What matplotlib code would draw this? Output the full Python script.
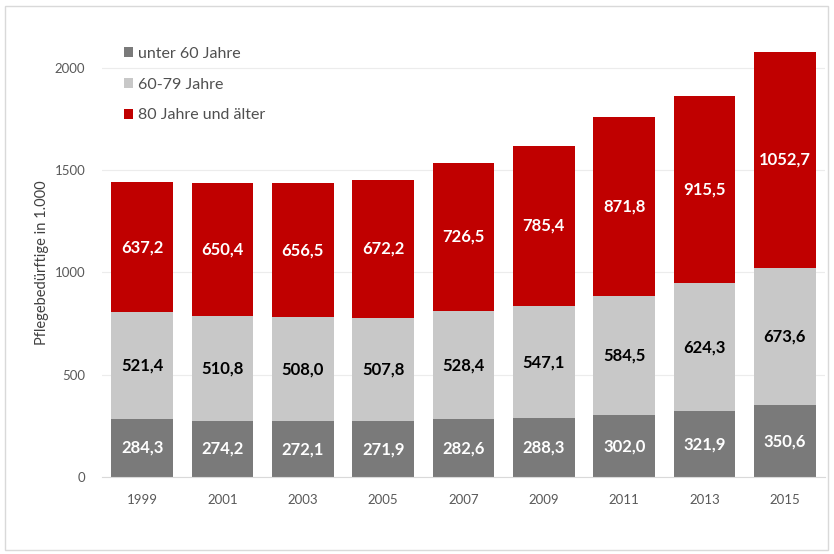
import matplotlib
matplotlib.use("Agg")
import matplotlib.pyplot as plt
from matplotlib.patches import Rectangle
import numpy as np

years = ["1999", "2001", "2003", "2005", "2007", "2009", "2011", "2013", "2015"]
unter60 = [284.3, 274.2, 272.1, 271.9, 282.6, 288.3, 302.0, 321.9, 350.6]
j60_79 = [521.4, 510.8, 508.0, 507.8, 528.4, 547.1, 584.5, 624.3, 673.6]
ab80 = [637.2, 650.4, 656.5, 672.2, 726.5, 785.4, 871.8, 915.5, 1052.7]
series_names = ["unter 60 Jahre", "60-79 Jahre", "80 Jahre und älter"]
yticks = [0, 500, 1000, 1500, 2000]

plt.rcParams['font.family'] = ['Lato', 'DejaVu Sans']

c_dark = "#7a7a7a"
c_light = "#c8c8c8"
c_red = "#c00000"

fig = plt.figure(figsize=(8.34, 5.54), dpi=100)
ax = fig.add_axes([102/834, 1 - 477/554, (825-102)/834, (477-47.5)/554])

x = np.arange(len(years))
w = 0.77
ax.bar(x, unter60, w, color=c_dark, label=series_names[0], zorder=2)
ax.bar(x, j60_79, w, bottom=unter60, color=c_light, label=series_names[1], zorder=2)
bot3 = np.array(unter60) + np.array(j60_79)
ax.bar(x, ab80, w, bottom=bot3, color=c_red, label=series_names[2], zorder=2)

def fmt(v):
    return f"{v:.1f}".replace(".", ",")

for i in range(len(years)):
    ax.text(x[i], unter60[i] / 2, fmt(unter60[i]), ha="center", va="center",
            color="white", fontsize=12, fontweight="bold", zorder=3)
    ax.text(x[i], unter60[i] + j60_79[i] / 2, fmt(j60_79[i]), ha="center", va="center",
            color="black", fontsize=12, fontweight="bold", zorder=3)
    ax.text(x[i], bot3[i] + ab80[i] / 2, fmt(ab80[i]), ha="center", va="center",
            color="white", fontsize=12, fontweight="bold", zorder=3)

ax.set_xlim(-0.5, len(years) - 0.5)
ax.set_ylim(0, 2100)
ax.set_yticks(yticks)
ax.set_yticklabels([str(t) for t in yticks], color="#595959", fontsize=9.5)
ax.set_xticks(x)
ax.set_xticklabels(years, color="#595959", fontsize=9.5)
ax.tick_params(axis="both", length=0, pad=12)
ax.grid(axis="y", color="#ececec", linewidth=0.8, zorder=0)
for s in ["top", "right", "left"]:
    ax.spines[s].set_visible(False)
ax.spines["bottom"].set_color("#d9d9d9")
ax.set_ylabel("Pflegebedürftige in 1.000", color="#404040", fontsize=10.5, labelpad=4)

ax.legend(loc="upper left", bbox_to_anchor=(0.01, 1.035), frameon=False,
          fontsize=11.5, handlelength=0.6, handleheight=0.6, handletextpad=0.3,
          labelspacing=1.05, labelcolor="#505050")

fig.patches.append(Rectangle((5/834, 4/554), 823/834, 544/554, transform=fig.transFigure,
                             fill=False, edgecolor="#d9d9d9", linewidth=1))

fig.savefig("out.png", dpi=100)
